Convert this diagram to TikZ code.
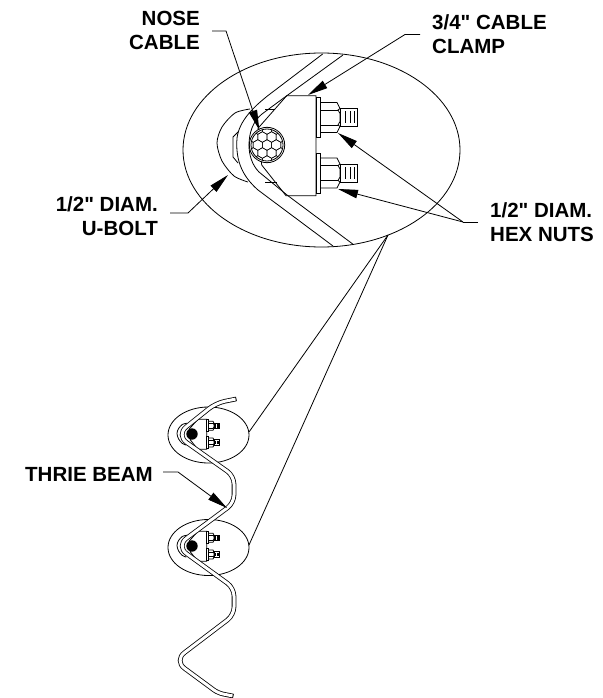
\documentclass[tikz,border=0pt]{standalone}
\usepackage{fontspec}
\setmainfont[Ligatures=TeXOff]{Liberation Sans}
\usetikzlibrary{arrows.meta}
\tikzset{
    lbl/.style={font=\bfseries\fontsize{20.5}{24}\selectfont, inner sep=0pt},
    leader/.style={line width=.8pt, -{Triangle[length=20pt,width=8.5pt]}},
    outline/.style={line width=.8pt},
    beamline/.style={line width=.8pt, double, double distance=3pt},
    clampview/.pic={
        \draw[outline, smooth] plot coordinates {(-17,-36)(-32,-32)(-45,-18)(-50,-2)(-45,16)(-33,31)(-19,37)};
        \draw[outline] (-29,-13)--(-34,-8)--(-34,12)--(-29,18);
        \draw[outline, fill=white] (19.7,-49.3)--(49,-49.3)--(49,50.7)--(19,50.7)--(-5.3,20)--(-9,-16.7)--cycle;
        \draw[outline] (-2,-35.7)--(8,-35.7);
        \draw[outline] (-2,37.3)--(10,37.3);
        \foreach \dy in {-27.5,28}
        {
            \draw[outline, fill=white] (49,\dy-20) rectangle (53.7,\dy+20);
            \draw[outline] (53.7,\dy-15)--(70,\dy-15)--(73,\dy-9)--(71,\dy-7.5)--(73,\dy-4)--(73,\dy+4)--(71,\dy+7.5)--(73,\dy+9)--(70,\dy+15)--(53.7,\dy+15);
            \draw[outline] (53.7,\dy-7.5)--(71,\dy-7.5);
            \draw[outline] (53.7,\dy+7.5)--(71,\dy+7.5);
            \draw[outline] (73,\dy-9) rectangle (90.7,\dy+9);
            \foreach \sx in {78.7,83,87}
                \draw[outline] (\sx,\dy-6)--(\sx,\dy+6);
        }
    }
}
\begin{document}
\begin{tikzpicture}[x=1pt, y=-1pt]
\useasboundingbox (0,0) rectangle (602,698);
\draw[outline] (321.5,150) ellipse [x radius=138.5, y radius=97];
\draw[outline] (208.5,435) ellipse [x radius=40.5, y radius=28];
\draw[outline] (208.5,547.5) ellipse [x radius=40.5, y radius=28];
% large view
\pic at (267,145) {clampview};
\draw[outline] (322.7,54)--(270,94) .. controls (245,113) and (236.7,128) .. (236.7,143) .. controls (236.7,160) and (241,175) .. (258,190)--(333,246);
\draw[outline] (343,55)--(285,97)--(262,114) .. controls (253,121) and (249,133) .. (249,145) .. controls (249,155) and (252,165) .. (259,172)--(287,195)--(352.7,244);
\draw[outline, fill=white] (267,145) circle (17.7);
\draw[outline] (267,145) circle (16);
\begin{scope}
    \clip (267,145) circle (16);
    \foreach \i in {-2,...,2}
    \foreach \j in {-2,...,2}
    {
        \draw[shift={(267+\i*9.2+\j*4.6,145+\j*8)}, line width=.5pt] (30:5.3)--(90:5.3)--(150:5.3)--(210:5.3)--(270:5.3)--(330:5.3)--cycle;
    }
\end{scope}
% small views
\foreach \cy in {434,546}
{
    \pic[scale=.3] at (192,\cy) {clampview};
    \fill (192,\cy) circle (5.7);
}
\draw[beamline] (236,399)[rounded corners=9pt]--(216,403)[rounded corners=13pt]--(176,435)[rounded corners=8pt]--(234,476)--(234,503)[rounded corners=13pt]--(176,546)[rounded corners=8pt]--(234,588)--(234,615)[rounded corners=13pt]--(174,660.6)[rounded corners=5pt]--(218,693)--(233,696);
\draw[outline] (236.4,401)--(235.6,397);
\draw[outline] (233.4,694)--(232.6,698);
% labels
\node[lbl, anchor=north east, align=right] (nosecable) at (200,11) {NOSE\\CABLE};
\node[lbl, anchor=north west, align=left] (cableclamp) at (432,14) {3/4" CABLE\\CLAMP};
\node[lbl, anchor=north east, align=right] (ubolt) at (158,196) {1/2" DIAM.\\U-BOLT};
\node[lbl, anchor=north west, align=left] (hexnuts) at (490,202) {1/2" DIAM.\\HEX NUTS};
\node[lbl, anchor=base west] (thriebeam) at (25,481) {THRIE BEAM};
% leaders
\coordinate (nosetip) at (259.3,130);
\coordinate (clamptip) at (308,95);
\coordinate (bolttip) at (228,175);
\coordinate (nuttipa) at (338,133);
\coordinate (nuttipb) at (338,189);
\coordinate (beamtip) at (227,508);
\coordinate (nuts) at (463,222);
\coordinate (detail) at (388,235);
\draw[leader] (212,31)--(226,31)--(nosetip);
\draw[leader] (420,34.5)--(405,34.5)--(clamptip);
\draw[leader] (170,213)--(188,213)--(bolttip);
\draw[outline] (478,222)--(nuts);
\draw[leader] (nuts)--(nuttipa);
\draw[leader] (nuts)--(nuttipb);
\draw[leader] (163,472)--(178,472)--(beamtip);
\draw[outline] (detail)--(249,432);
\draw[outline] (detail)--(249,545);
\end{tikzpicture}
\end{document}
